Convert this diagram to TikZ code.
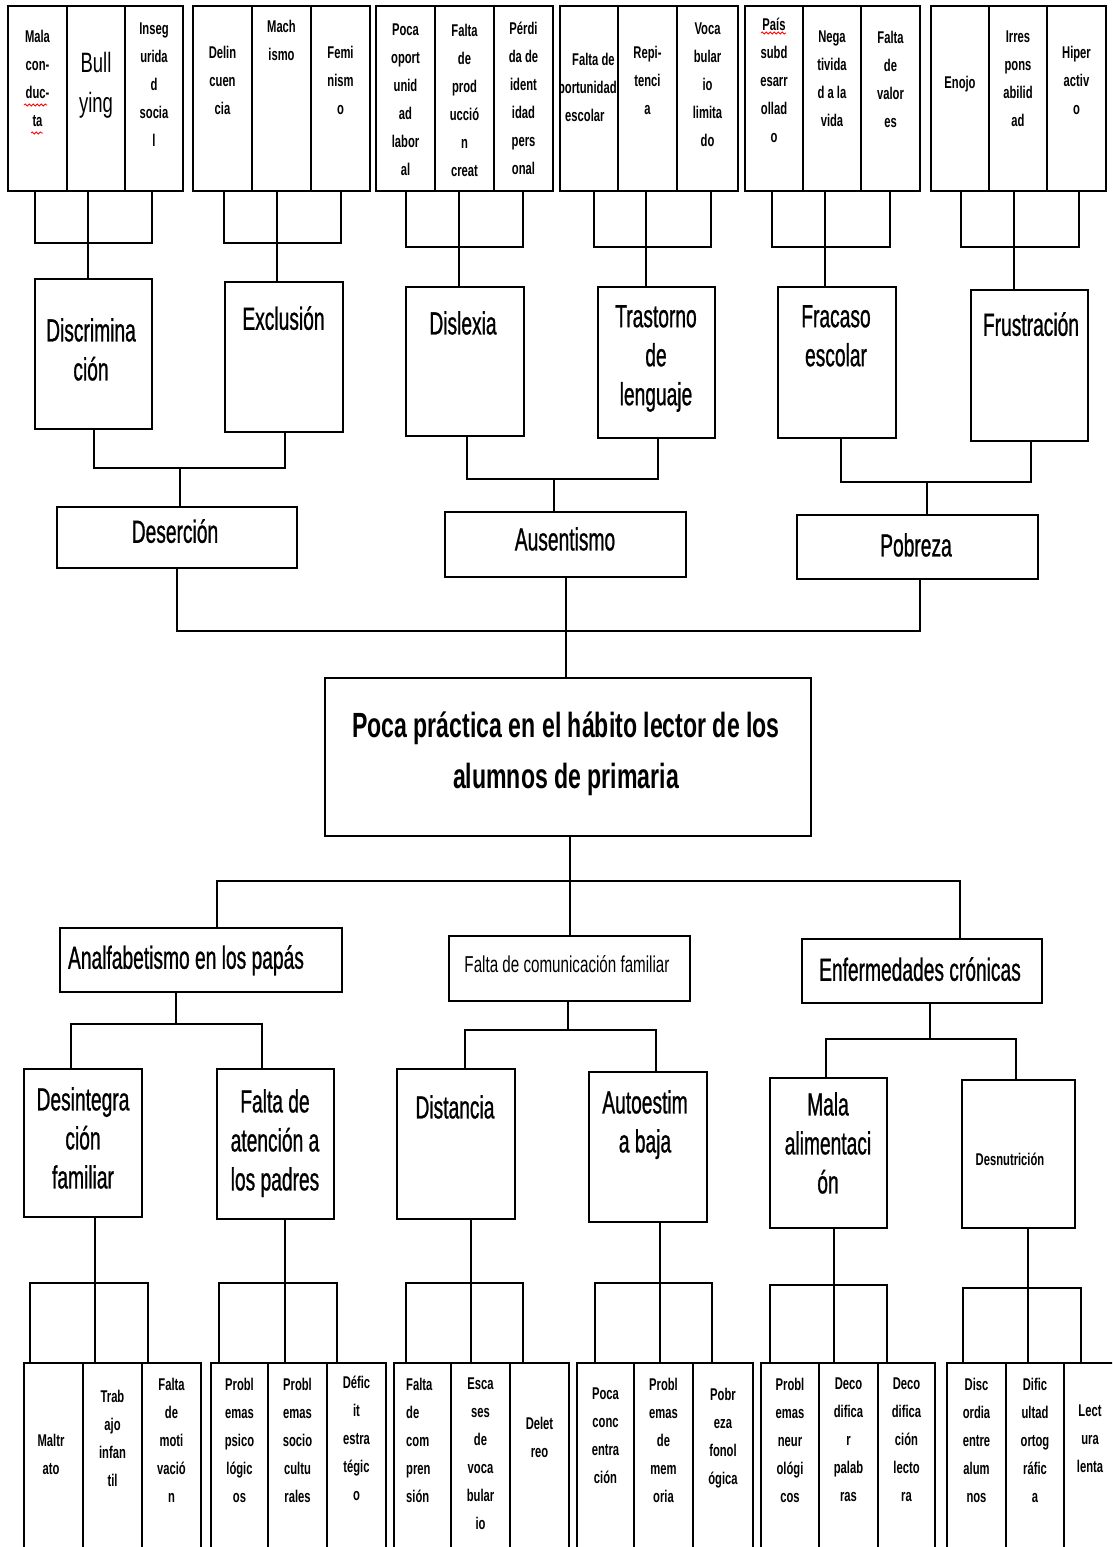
\documentclass[tikz,border=0pt]{standalone}
\usepackage{fontspec}
\setmainfont{Liberation Sans}
\newfontfamily\catf{Liberation Sans}[FakeStretch=0.6,FakeBold=0.8]
\newfontfamily\nf{Liberation Sans}[FakeStretch=0.66]
\usetikzlibrary{decorations.pathmorphing}
\newcommand{\rbox}[5]{\node[box,minimum width={(#4-#2)*1pt},minimum height={(#5-#3)*1pt}] (#1) at (#2,#3) {};}
\tikzset{
  box/.style={draw, line width=1.8pt, inner sep=0pt, outer sep=0pt, anchor=north west},
  conn/.style={line width=1.5pt},
  cat/.style={font=\catf\fontsize{32}{39}\selectfont, align=center, anchor=north, inner sep=0pt},
  sm/.style={font=\nf\bfseries\fontsize{17}{28}\selectfont, align=center, anchor=north, inner sep=0pt},
  smleft/.style={font=\nf\bfseries\fontsize{17}{28}\selectfont, align=left, anchor=north west, inner sep=0pt},
  mid/.style={font=\nf\fontsize{23}{28}\selectfont, align=center, anchor=north, inner sep=0pt},
  big/.style={font=\nf\fontsize{28}{40}\selectfont, align=center, anchor=north, inner sep=0pt},
  ttl/.style={font=\nf\bfseries\fontsize{35}{51}\selectfont, align=center, anchor=north, inner sep=0pt},
  squig/.style={red, line width=0.8pt, decorate, decoration={snake, amplitude=1pt, segment length=4pt}}
}
\begin{document}
\begin{tikzpicture}[x=1pt,y=-1pt]
\clip (0,0) rectangle (1112,1547);
\fill[white] (0,0) rectangle (1112,1547);

% ---------- top row of cells ----------
\rbox{g1a}{8}{6}{67}{191}\rbox{g1b}{67}{6}{125}{191}\rbox{g1c}{125}{6}{183}{191}
\rbox{g2a}{193}{6}{252}{191}\rbox{g2b}{252}{6}{311}{191}\rbox{g2c}{311}{6}{370}{191}
\rbox{g3a}{376}{6}{435}{191}\rbox{g3b}{435}{6}{494}{191}\rbox{g3c}{494}{6}{553}{191}
\rbox{g4a}{560}{6}{618}{191}\rbox{g4b}{618}{6}{677}{191}\rbox{g4c}{677}{6}{738}{191}
\rbox{g5a}{745}{6}{803}{191}\rbox{g5b}{803}{6}{861}{191}\rbox{g5c}{861}{6}{920}{191}
\rbox{g6a}{931}{6}{989}{191}\rbox{g6b}{989}{6}{1047}{191}\rbox{g6c}{1047}{6}{1106}{191}

\node[sm] (g1a-t) at (37.5,30) {Mala\\con-\\duc-\\ta};
\node[big] (g1b-t) at (96,52) {Bull\\ying};
\node[sm] (g1c-t) at (154,23) {Inseg\\urida\\d\\socia\\l};
\node[sm] (g2a-t) at (222.5,46) {Delin\\cuen\\cia};
\node[sm] (g2b-t) at (281.5,20) {Mach\\ismo};
\node[sm] (g2c-t) at (340.5,46) {Femi\\nism\\o};
\node[sm] (g3a-t) at (405.5,24) {Poca\\oport\\unid\\ad\\labor\\al};
\node[sm] (g3b-t) at (464.5,24) {Falta\\de\\prod\\ucció\\n\\creat};
\node[sm] (g3c-t) at (523.5,22) {Pérdi\\da de\\ident\\idad\\pers\\onal};
\begin{scope}
  \clip (g4a.north west) rectangle (g4a.south east);
  \node[smleft] (g4a-t) at (551,53) {\hspace*{21pt}Falta de\\oportunidad\\\hspace*{14pt}escolar};
\end{scope}
\node[sm] (g4b-t) at (647.5,46) {Repi-\\tenci\\a};
\node[sm] (g4c-t) at (707.5,23) {Voca\\bular\\io\\limita\\do};
\node[sm] (g5a-t) at (774,18) {País\\subd\\esarr\\ollad\\o};
\node[sm] (g5b-t) at (832,31) {Nega\\tivida\\d a la\\vida};
\node[sm] (g5c-t) at (890.5,31) {Falta\\de\\valor\\es};
\node[sm] (g6a-t) at (960,76) {Enojo};
\node[sm] (g6b-t) at (1018,31) {Irres\\pons\\abilid\\ad};
\node[sm] (g6c-t) at (1076.5,46) {Hiper\\activ\\o};

\draw[squig] (24,105) -- (47,105);
\draw[squig] (31,133) -- (43,133);
\draw[squig] (761,33) -- (786,33);

% ---------- category boxes ----------
\rbox{disc}{35}{279}{152}{429}
\rbox{excl}{225}{282}{343}{432}
\rbox{disl}{406}{287}{524}{436}
\rbox{tras}{598}{287}{715}{438}
\rbox{frac}{778}{287}{896}{438}
\rbox{frus}{971}{290}{1088}{441}
\node[cat] (disc-t) at (91,318) {Discrimina\\ción};
\node[cat] (excl-t) at (283.5,306) {Exclusión};
\node[cat] (disl-t) at (463,311) {Dislexia};
\node[cat] (tras-t) at (656,305) {Trastorno\\de\\lenguaje};
\node[cat] (frac-t) at (836,305) {Fracaso\\escolar};
\node[cat] (frus-t) at (1031,312) {Frustración};

% brackets from top cells
\coordinate (j1) at (88,243);
\draw[conn] ([xshift=-2.5pt]g1a.south) |- (j1) -| ([xshift=-2pt]g1c.south);
\draw[conn] ([xshift=-8pt]g1b.south) -- (j1) -- (j1 |- disc.north);
\coordinate (j2) at (277,243);
\draw[conn] ([xshift=1.5pt]g2a.south) |- (j2) -| ([xshift=0.5pt]g2c.south);
\draw[conn] ([xshift=-4.5pt]g2b.south) -- (j2) -- (j2 |- excl.north);
\coordinate (j3) at (459,247);
\draw[conn] ([xshift=0.5pt]g3a.south) |- (j3) -| ([xshift=-0.5pt]g3c.south);
\draw[conn] ([xshift=-5.5pt]g3b.south) -- (j3) -- (j3 |- disl.north);
\coordinate (j4) at (646,247);
\draw[conn] ([xshift=5pt]g4a.south) |- (j4) -| ([xshift=3.5pt]g4c.south);
\draw[conn] ([xshift=-1.5pt]g4b.south) -- (j4) -- (j4 |- tras.north);
\coordinate (j5) at (825,247);
\draw[conn] ([xshift=-2pt]g5a.south) |- (j5) -| ([xshift=-0.5pt]g5c.south);
\draw[conn] ([xshift=-7pt]g5b.south) -- (j5) -- (j5 |- frac.north);
\coordinate (j6) at (1014,247);
\draw[conn] ([xshift=1pt]g6a.south) |- (j6) -| ([xshift=2.5pt]g6c.south);
\draw[conn] ([xshift=-4pt]g6b.south) -- (j6) -- (j6 |- frus.north);

% ---------- second row ----------
\rbox{des}{57}{507}{297}{568}
\rbox{aus}{445}{512}{686}{577}
\rbox{pob}{797}{515}{1038}{579}
\node[cat] (des-t) at (175,519) {Deserción};
\node[cat] (aus-t) at (565,527) {Ausentismo};
\node[cat] (pob-t) at (916,533) {Pobreza};

\coordinate (jd) at (180,468);
\draw[conn] ([xshift=0.5pt]disc.south) |- (jd) -| ([xshift=1pt]excl.south);
\draw[conn] (jd) -- (jd |- des.north);
\coordinate (ja) at (554,479);
\draw[conn] ([xshift=2pt]disl.south) |- (ja) -| ([xshift=1.5pt]tras.south);
\draw[conn] (ja) -- (ja |- aus.north);
\coordinate (jp) at (927,482);
\draw[conn] ([xshift=4pt]frac.south) |- (jp) -| ([xshift=1.5pt]frus.south);
\draw[conn] (jp) -- (jp |- pob.north);

% ---------- main problem ----------
\rbox{main}{325}{678}{811}{836}
\node[ttl] (main-t) at (566,712) {Poca práctica en el hábito lector de los\\alumnos de primaria};
\coordinate (jm) at (566,631);
\draw[conn] (des.south) |- (jm) -| ([xshift=2.5pt]pob.south);
\draw[conn] ([xshift=0.5pt]aus.south) -- (jm) -- (jm |- main.north);

% ---------- causes ----------
\rbox{anal}{60}{928}{342}{992}
\rbox{fcom}{449}{936}{690}{1001}
\rbox{enf}{802}{939}{1042}{1003}
\node[cat] (anal-t) at (186,945) {Analfabetismo en los papás};
\node[mid] (fcom-t) at (567,955) {Falta de comunicación familiar};
\node[cat] (enf-t) at (920,957) {Enfermedades crónicas};

\coordinate (jb) at (570,881);
\draw[conn] (jb |- main.south) -- (jb);
\draw[conn] ([xshift=16pt]anal.north) |- (jb) -| ([xshift=38pt]enf.north);
\draw[conn] (jb) -- (jb |- fcom.north);

\rbox{desi}{24}{1069}{142}{1217}
\rbox{fate}{217}{1069}{334}{1219}
\rbox{dist}{397}{1069}{515}{1219}
\rbox{auto}{589}{1072}{707}{1222}
\rbox{mala}{770}{1078}{887}{1228}
\rbox{desn}{962}{1080}{1075}{1228}
\node[cat] (desi-t) at (83,1087) {Desintegra\\ción\\familiar};
\node[cat] (fate-t) at (275,1089) {Falta de\\atención a\\los padres};
\node[cat] (dist-t) at (455,1095) {Distancia};
\node[cat] (auto-t) at (645,1090) {Autoestim\\a baja};
\node[cat] (mala-t) at (828,1092) {Mala\\alimentaci\\ón};
\node[sm] (desn-t) at (1010,1153) {Desnutrición};

\coordinate (jan) at (176,1024);
\draw[conn] (jan |- anal.south) -- (jan);
\draw[conn] ([xshift=-12pt]desi.north) |- (jan) -| ([xshift=-13.5pt]fate.north);
\coordinate (jfc) at (568,1030);
\draw[conn] (jfc |- fcom.south) -- (jfc);
\draw[conn] ([xshift=9pt]dist.north) |- (jfc) -| ([xshift=8pt]auto.north);
\coordinate (jen) at (930,1039);
\draw[conn] (jen |- enf.south) -- (jen);
\draw[conn] ([xshift=-2.5pt]mala.north) |- (jen) -| ([xshift=-2.5pt]desn.north);

% ---------- bottom row of cells ----------
\rbox{a1}{24}{1363}{83}{1570}\rbox{a2}{83}{1363}{142}{1570}\rbox{a3}{142}{1363}{201}{1570}
\rbox{b1}{211}{1363}{268}{1570}\rbox{b2}{268}{1363}{327}{1570}\rbox{b3}{327}{1363}{386}{1570}
\rbox{c1}{394}{1363}{451}{1570}\rbox{c2}{451}{1363}{510}{1570}\rbox{c3}{510}{1363}{569}{1570}
\rbox{d1}{577}{1363}{634}{1570}\rbox{d2}{634}{1363}{693}{1570}\rbox{d3}{693}{1363}{753}{1570}
\rbox{e1}{761}{1363}{819}{1570}\rbox{e2}{819}{1363}{878}{1570}\rbox{e3}{878}{1363}{935}{1570}
\rbox{f1}{947}{1363}{1006}{1570}\rbox{f2}{1006}{1363}{1064}{1570}\rbox{f3}{1064}{1363}{1122}{1570}

\node[sm] (a1-t) at (51,1434) {Maltr\\ato};
\node[sm] (a2-t) at (112.5,1390) {Trab\\ajo\\infan\\til};
\node[sm] (a3-t) at (171.5,1378) {Falta\\de\\moti\\vació\\n};
\node[sm] (b1-t) at (239.5,1378) {Probl\\emas\\psico\\lógic\\os};
\node[sm] (b2-t) at (297.5,1378) {Probl\\emas\\socio\\cultu\\rales};
\node[sm] (b3-t) at (356.5,1376) {Défic\\it\\estra\\tégic\\o};
\node[smleft] (c1-t) at (406,1378) {Falta\\de\\com\\pren\\sión};
\node[sm] (c2-t) at (480.5,1378) {Esca\\ses\\de\\voca\\bular\\io};
\node[sm] (c3-t) at (539.5,1417) {Delet\\reo};
\node[sm] (d1-t) at (605.5,1388) {Poca\\conc\\entra\\ción};
\node[sm] (d2-t) at (663.5,1378) {Probl\\emas\\de\\mem\\oria};
\node[sm] (d3-t) at (723,1388) {Pobr\\eza\\fonol\\ógica};
\node[sm] (e1-t) at (790,1378) {Probl\\emas\\neur\\ológi\\cos};
\node[sm] (e2-t) at (848.5,1378) {Deco\\difica\\r\\palab\\ras};
\node[sm] (e3-t) at (906.5,1378) {Deco\\difica\\ción\\lecto\\ra};
\node[sm] (f1-t) at (976.5,1378) {Disc\\ordia\\entre\\alum\\nos};
\node[sm] (f2-t) at (1035,1378) {Dific\\ultad\\ortog\\ráfic\\a};
\node[sm] (f3-t) at (1090,1405) {Lect\\ura\\lenta};

\coordinate (jA) at (95,1283);
\draw[conn] (jA |- desi.south) -- (jA);
\draw[conn] ([xshift=-23.5pt]a1.north) |- (jA) -| ([xshift=-23.5pt]a3.north);
\draw[conn] (jA) -- ([xshift=-17.5pt]a2.north);
\coordinate (jB) at (285,1283);
\draw[conn] (jB |- fate.south) -- (jB);
\draw[conn] ([xshift=-20.5pt]b1.north) |- (jB) -| ([xshift=-19.5pt]b3.north);
\draw[conn] (jB) -- ([xshift=-12.5pt]b2.north);
\coordinate (jC) at (471,1283);
\draw[conn] (jC |- dist.south) -- (jC);
\draw[conn] ([xshift=-16.5pt]c1.north) |- (jC) -| ([xshift=-16.5pt]c3.north);
\draw[conn] (jC) -- ([xshift=-9.5pt]c2.north);
\coordinate (jD) at (660,1283);
\draw[conn] (jD |- auto.south) -- (jD);
\draw[conn] ([xshift=-10.5pt]d1.north) |- (jD) -| ([xshift=-11pt]d3.north);
\draw[conn] (jD) -- ([xshift=-3.5pt]d2.north);
\coordinate (jE) at (834,1285);
\draw[conn] (jE |- mala.south) -- (jE);
\draw[conn] ([xshift=-20pt]e1.north) |- (jE) -| ([xshift=-19.5pt]e3.north);
\draw[conn] (jE) -- ([xshift=-14.5pt]e2.north);
\coordinate (jF) at (1028,1288);
\draw[conn] (jF |- desn.south) -- (jF);
\draw[conn] ([xshift=-13.5pt]f1.north) |- (jF) -| ([xshift=-12pt]f3.north);
\draw[conn] (jF) -- ([xshift=-7pt]f2.north);
\end{tikzpicture}
\end{document}
